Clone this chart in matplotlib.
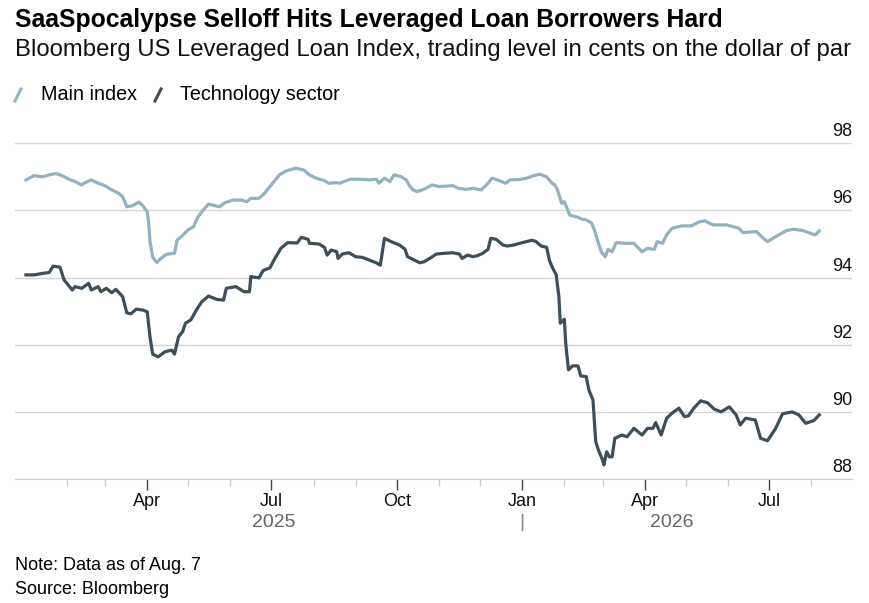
import matplotlib.pyplot as plt
import matplotlib.dates as mdates
import numpy as np
from matplotlib.lines import Line2D

plt.rcParams['font.family'] = ['Liberation Sans', 'DejaVu Sans']

# Bloomberg US Leveraged Loan Index
main_dates = [
    '2025-01-02', '2025-01-08', '2025-01-14', '2025-01-19', '2025-01-24', '2025-01-29',
    '2025-02-02', '2025-02-07', '2025-02-12', '2025-02-14', '2025-02-19', '2025-02-24',
    '2025-03-01', '2025-03-06', '2025-03-11', '2025-03-14', '2025-03-17', '2025-03-21',
    '2025-03-26', '2025-03-29', '2025-04-01', '2025-04-02', '2025-04-03', '2025-04-05',
    '2025-04-08', '2025-04-11', '2025-04-15', '2025-04-21', '2025-04-23', '2025-04-26',
    '2025-05-01', '2025-05-05', '2025-05-08', '2025-05-12', '2025-05-16', '2025-05-20',
    '2025-05-24', '2025-05-28', '2025-06-03', '2025-06-09', '2025-06-13', '2025-06-16',
    '2025-06-22', '2025-06-26', '2025-07-01', '2025-07-07', '2025-07-12', '2025-07-19',
    '2025-07-25', '2025-07-29', '2025-08-03', '2025-08-09', '2025-08-12', '2025-08-18',
    '2025-08-20', '2025-08-28', '2025-09-04', '2025-09-11', '2025-09-16', '2025-09-18',
    '2025-09-22', '2025-09-26', '2025-09-29', '2025-10-04', '2025-10-08', '2025-10-10',
    '2025-10-13', '2025-10-16', '2025-10-21', '2025-10-27', '2025-11-01', '2025-11-11',
    '2025-11-15', '2025-11-21', '2025-11-26', '2025-12-02', '2025-12-07', '2025-12-10',
    '2025-12-15', '2025-12-20', '2025-12-23', '2025-12-30', '2026-01-04', '2026-01-09',
    '2026-01-14', '2026-01-19', '2026-01-23', '2026-01-25', '2026-01-27', '2026-01-30',
    '2026-02-01', '2026-02-05', '2026-02-10', '2026-02-14', '2026-02-17', '2026-02-21',
    '2026-02-23', '2026-02-26', '2026-02-28', '2026-03-03', '2026-03-05', '2026-03-08',
    '2026-03-11', '2026-03-18', '2026-03-24', '2026-03-30', '2026-04-03', '2026-04-08',
    '2026-04-10', '2026-04-14', '2026-04-17', '2026-04-21', '2026-04-28', '2026-05-05',
    '2026-05-11', '2026-05-15', '2026-05-21', '2026-05-31', '2026-06-09', '2026-06-12',
    '2026-06-22', '2026-06-27', '2026-06-30', '2026-07-06', '2026-07-14', '2026-07-19',
    '2026-07-26', '2026-08-04', '2026-08-07',
]
main_index = [
    96.91, 97.04, 97.00, 97.06, 97.10, 97.03,
    96.94, 96.86, 96.76, 96.82, 96.91, 96.81,
    96.74, 96.61, 96.51, 96.41, 96.11, 96.14,
    96.25, 96.13, 95.95, 95.66, 95.09, 94.61,
    94.45, 94.57, 94.69, 94.73, 95.12, 95.22,
    95.42, 95.52, 95.79, 96.01, 96.19, 96.15,
    96.11, 96.23, 96.31, 96.31, 96.26, 96.36,
    96.36, 96.51, 96.76, 97.06, 97.18, 97.26,
    97.20, 97.06, 96.96, 96.89, 96.81, 96.83,
    96.81, 96.93, 96.93, 96.91, 96.93, 96.81,
    96.96, 96.86, 97.06, 97.01, 96.91, 96.76,
    96.61, 96.56, 96.63, 96.76, 96.71, 96.74,
    96.66, 96.63, 96.66, 96.61, 96.81, 96.96,
    96.89, 96.81, 96.91, 96.92, 96.96, 97.03,
    97.08, 97.00, 96.81, 96.76, 96.61, 96.21,
    96.26, 95.86, 95.81, 95.74, 95.72, 95.62,
    95.42, 95.02, 94.77, 94.62, 94.84, 94.77,
    95.04, 95.02, 95.02, 94.77, 94.87, 94.84,
    95.07, 95.02, 95.27, 95.47, 95.54, 95.54,
    95.66, 95.69, 95.57, 95.57, 95.47, 95.34,
    95.37, 95.17, 95.07, 95.22, 95.40, 95.44,
    95.40, 95.27, 95.39,
]

tech_dates = [
    '2025-01-02', '2025-01-08', '2025-01-15', '2025-01-19', '2025-01-22', '2025-01-27',
    '2025-01-30', '2025-02-03', '2025-02-05', '2025-02-07', '2025-02-12', '2025-02-17',
    '2025-02-19', '2025-02-24', '2025-02-26', '2025-03-02', '2025-03-06', '2025-03-09',
    '2025-03-14', '2025-03-17', '2025-03-20', '2025-03-24', '2025-03-29', '2025-04-01',
    '2025-04-03', '2025-04-05', '2025-04-09', '2025-04-14', '2025-04-19', '2025-04-21',
    '2025-04-24', '2025-04-27', '2025-04-29', '2025-05-03', '2025-05-07', '2025-05-11',
    '2025-05-16', '2025-05-22', '2025-05-27', '2025-05-29', '2025-06-05', '2025-06-11',
    '2025-06-15', '2025-06-16', '2025-06-22', '2025-06-25', '2025-06-30', '2025-07-03',
    '2025-07-08', '2025-07-13', '2025-07-20', '2025-07-23', '2025-07-28', '2025-07-29',
    '2025-08-05', '2025-08-09', '2025-08-11', '2025-08-14', '2025-08-18', '2025-08-19',
    '2025-08-22', '2025-08-27', '2025-09-01', '2025-09-06', '2025-09-11', '2025-09-16',
    '2025-09-19', '2025-09-22', '2025-09-27', '2025-10-03', '2025-10-07', '2025-10-09',
    '2025-10-13', '2025-10-18', '2025-10-21', '2025-10-26', '2025-10-30', '2025-11-04',
    '2025-11-11', '2025-11-16', '2025-11-18', '2025-11-22', '2025-11-26', '2025-11-29',
    '2025-12-03', '2025-12-07', '2025-12-09', '2025-12-13', '2025-12-18', '2025-12-21',
    '2025-12-26', '2026-01-01', '2026-01-08', '2026-01-11', '2026-01-15', '2026-01-19',
    '2026-01-21', '2026-01-23', '2026-01-26', '2026-01-28', '2026-01-29', '2026-02-01',
    '2026-02-02', '2026-02-04', '2026-02-07', '2026-02-11', '2026-02-13', '2026-02-17',
    '2026-02-19', '2026-02-22', '2026-02-24', '2026-02-26', '2026-03-01', '2026-03-02',
    '2026-03-04', '2026-03-06', '2026-03-08', '2026-03-10', '2026-03-15', '2026-03-19',
    '2026-03-24', '2026-03-30', '2026-04-03', '2026-04-07', '2026-04-09', '2026-04-13',
    '2026-04-17', '2026-04-21', '2026-04-26', '2026-04-30', '2026-05-03', '2026-05-07',
    '2026-05-12', '2026-05-17', '2026-05-22', '2026-05-27', '2026-06-02', '2026-06-07',
    '2026-06-10', '2026-06-14', '2026-06-21', '2026-06-25', '2026-06-30', '2026-07-06',
    '2026-07-11', '2026-07-18', '2026-07-23', '2026-07-28', '2026-08-03', '2026-08-07',
]
tech_sector = [
    94.08, 94.08, 94.13, 94.15, 94.34, 94.31,
    93.93, 93.73, 93.63, 93.73, 93.68, 93.83,
    93.63, 93.73, 93.58, 93.68, 93.55, 93.65,
    93.43, 92.95, 92.92, 93.06, 93.03, 92.98,
    92.24, 91.72, 91.64, 91.79, 91.84, 91.72,
    92.24, 92.39, 92.64, 92.74, 93.03, 93.28,
    93.45, 93.35, 93.33, 93.68, 93.73, 93.58,
    93.58, 94.03, 93.99, 94.21, 94.29, 94.52,
    94.87, 95.04, 95.03, 95.20, 95.14, 95.02,
    95.00, 94.90, 94.67, 94.82, 94.77, 94.57,
    94.70, 94.74, 94.62, 94.60, 94.52, 94.44,
    94.37, 95.17, 95.07, 94.97, 94.85, 94.62,
    94.54, 94.44, 94.47, 94.59, 94.70, 94.72,
    94.74, 94.70, 94.57, 94.67, 94.62, 94.65,
    94.72, 94.84, 95.17, 95.14, 94.97, 94.94,
    94.97, 95.04, 95.11, 95.08, 94.94, 94.90,
    94.52, 94.32, 94.08, 93.43, 92.64, 92.76,
    92.04, 91.25, 91.37, 91.37, 91.07, 91.05,
    90.65, 90.35, 89.11, 88.86, 88.57, 88.42,
    88.81, 88.66, 88.66, 89.21, 89.31, 89.26,
    89.51, 89.31, 89.51, 89.51, 89.68, 89.31,
    89.81, 89.96, 90.11, 89.86, 89.88, 90.11,
    90.33, 90.27, 90.08, 90.00, 90.15, 89.91,
    89.61, 89.81, 89.76, 89.21, 89.14, 89.51,
    89.94, 90.00, 89.91, 89.66, 89.74, 89.91,
]

y_ticks = [88, 90, 92, 94, 96, 98]
major_months = ['2025-04-01', '2025-07-01', '2025-10-01', '2026-01-01', '2026-04-01', '2026-07-01']
major_labels = ['Apr', 'Jul', 'Oct', 'Jan', 'Apr', 'Jul']
minor_months = ['2025-02-01', '2025-03-01', '2025-05-01', '2025-06-01', '2025-08-01',
                '2025-09-01', '2025-11-01', '2025-12-01', '2026-02-01', '2026-03-01',
                '2026-05-01', '2026-06-01', '2026-08-01']

main_color = '#93b2bf'
tech_color = '#3d4f5a'

fig = plt.figure(figsize=(8.7, 6.03), dpi=100)
ax = fig.add_axes([15 / 870, 1 - 479 / 603, 837 / 870, (479 - 143.3) / 603])

ax.plot(np.array(main_dates, dtype='datetime64[D]'), main_index, color=main_color, lw=2.3,
        solid_joinstyle='round')
ax.plot(np.array(tech_dates, dtype='datetime64[D]'), tech_sector, color=tech_color, lw=2.3,
        solid_joinstyle='round')

ax.set_xlim(np.datetime64('2024-12-25'), np.datetime64('2026-08-31'))
ax.set_ylim(88, 98)

# gridlines and right-hand labels sitting above them
for v in y_ticks:
    ax.axhline(v, color='#d4d4d4', lw=1.0, zorder=0)
    ax.annotate(str(v), xy=(1, v), xycoords=('axes fraction', 'data'),
                xytext=(0, 5), textcoords='offset points',
                ha='right', va='baseline', fontsize=13, color='#111111')
ax.set_yticks([])

for s in ['top', 'right', 'left']:
    ax.spines[s].set_visible(False)
ax.spines['bottom'].set_color('#cccccc')

ax.set_xticks(np.array(major_months, dtype='datetime64[D]'), major_labels)
ax.set_xticks(np.array(minor_months, dtype='datetime64[D]'), minor=True)
ax.tick_params(axis='x', which='major', length=8, width=1, color='#444444',
               labelsize=13, labelcolor='#111111', pad=2)
ax.tick_params(axis='x', which='minor', length=5, width=1, color='#cccccc')

# year labels under the month ticks
for txt, d, fs, col in [('2025', '2025-07-03', 14, '#666666'),
                        ('2026', '2026-04-21', 14, '#666666'),
                        ('|', '2026-01-01', 14, '#888888')]:
    ax.annotate(txt, xy=(mdates.date2num(np.datetime64(d)), 0),
                xycoords=('data', 'axes fraction'), xytext=(0, -31), textcoords='offset points',
                ha='center', va='center', fontsize=fs, color=col)

fig.text(15 / 870, 1 - 20 / 603, 'SaaSpocalypse Selloff Hits Leveraged Loan Borrowers Hard',
         fontsize=17.8, fontweight='bold', va='center', ha='left', color='#000000')
fig.text(15 / 870, 1 - 50 / 603,
         'Bloomberg US Leveraged Loan Index, trading level in cents on the dollar of par',
         fontsize=17.2, va='center', ha='left', color='#111111')

# legend
fig.add_artist(Line2D([15 / 870, 21 / 870], [1 - 101 / 603, 1 - 89 / 603],
                      color=main_color, lw=2.2))
fig.text(41 / 870, 1 - 94 / 603, 'Main index', fontsize=14.2, va='center', ha='left')
fig.add_artist(Line2D([155 / 870, 161 / 870], [1 - 101 / 603, 1 - 89 / 603],
                      color=tech_color, lw=2.2))
fig.text(180 / 870, 1 - 94 / 603, 'Technology sector', fontsize=14.2, va='center', ha='left')

fig.text(15 / 870, 1 - 565 / 603, 'Note: Data as of Aug. 7', fontsize=13, va='center', ha='left')
fig.text(15 / 870, 1 - 590 / 603, 'Source: Bloomberg', fontsize=13, va='center', ha='left')

fig.savefig('out.png', dpi=100)
